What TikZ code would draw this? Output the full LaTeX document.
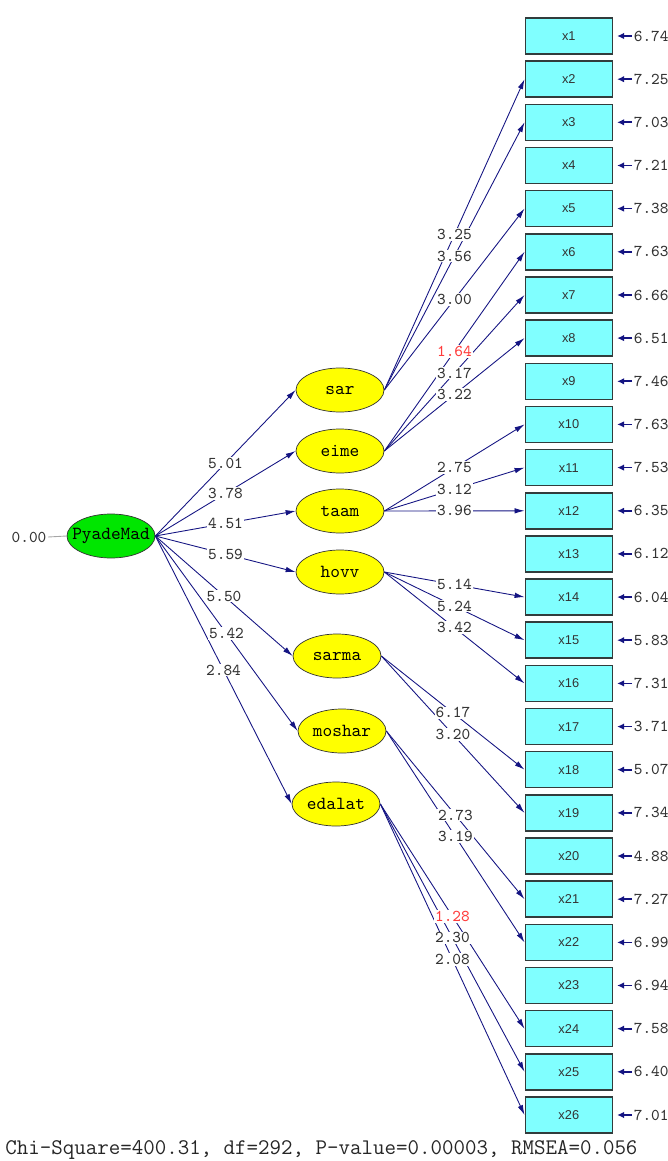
\documentclass[tikz,border=0pt]{standalone}
\usepackage{fontspec}
\newfontfamily\obsfont{Liberation Sans}
\usetikzlibrary{shapes.geometric, arrows.meta}

\definecolor{lisnavy}{RGB}{20,20,130}
\definecolor{lisgreen}{RGB}{0,230,0}
\definecolor{lisyellow}{RGB}{255,255,0}
\definecolor{liscyan}{RGB}{128,255,255}
\definecolor{lisred}{RGB}{255,60,60}
\definecolor{lisbord}{RGB}{50,60,60}

\tikzset{
	obs/.style={draw=lisbord, line width=0.3mm, fill=liscyan, minimum width=17.4mm,
		minimum height=7.2mm, inner sep=0pt, text=black!80,
		font=\obsfont\fontsize{7.3}{8}\selectfont},
	lat/.style={ellipse, draw=black!80, fill=lisyellow, minimum width=17.6mm,
		minimum height=8.8mm, inner sep=0pt, font=\ttfamily\fontsize{10.5}{11}\selectfont},
	load/.style={draw=lisnavy, line width=0.5pt, -{Latex[length=2mm,width=1.1mm]}},
	errarr/.style={draw=lisnavy, line width=1pt, -{Latex[length=1.4mm,width=1.3mm]}, shorten >=0.8mm},
	lbl/.style={fill=white, inner sep=0.6pt, text=black!80, font=\ttfamily\fontsize{9.4}{10}\selectfont},
	errlbl/.style={anchor=west, inner sep=0.3mm, text=black!80, font=\ttfamily\fontsize{9.4}{10}\selectfont}
}

\begin{document}
\begin{tikzpicture}[x=0.2mm, y=-0.2mm]
					\useasboundingbox (0,0) rectangle (668,1161);
					\clip (0,0) rectangle (668,1161);

					% observed variables
					\draw
						(568.8,36.0) node[obs] (x1) {x1}
						(568.8,79.2) node[obs] (x2) {x2}
						(568.8,122.3) node[obs] (x3) {x3}
						(568.8,165.5) node[obs] (x4) {x4}
						(568.8,208.6) node[obs] (x5) {x5}
						(568.8,251.8) node[obs] (x6) {x6}
						(568.8,295.0) node[obs] (x7) {x7}
						(568.8,338.1) node[obs] (x8) {x8}
						(568.8,381.3) node[obs] (x9) {x9}
						(568.8,424.4) node[obs] (x10) {x10}
						(568.8,467.6) node[obs] (x11) {x11}
						(568.8,510.8) node[obs] (x12) {x12}
						(568.8,553.9) node[obs] (x13) {x13}
						(568.8,597.1) node[obs] (x14) {x14}
						(568.8,640.2) node[obs] (x15) {x15}
						(568.8,683.4) node[obs] (x16) {x16}
						(568.8,726.6) node[obs] (x17) {x17}
						(568.8,769.7) node[obs] (x18) {x18}
						(568.8,812.9) node[obs] (x19) {x19}
						(568.8,856.0) node[obs] (x20) {x20}
						(568.8,899.2) node[obs] (x21) {x21}
						(568.8,942.4) node[obs] (x22) {x22}
						(568.8,985.5) node[obs] (x23) {x23}
						(568.8,1028.7) node[obs] (x24) {x24}
						(568.8,1071.8) node[obs] (x25) {x25}
						(568.8,1115.0) node[obs] (x26) {x26};

					% error variances
					\draw
						(632,36.0) node[errlbl] (e1) {6.74}
						(632,79.2) node[errlbl] (e2) {7.25}
						(632,122.3) node[errlbl] (e3) {7.03}
						(632,165.5) node[errlbl] (e4) {7.21}
						(632,208.6) node[errlbl] (e5) {7.38}
						(632,251.8) node[errlbl] (e6) {7.63}
						(632,295.0) node[errlbl] (e7) {6.66}
						(632,338.1) node[errlbl] (e8) {6.51}
						(632,381.3) node[errlbl] (e9) {7.46}
						(632,424.4) node[errlbl] (e10) {7.63}
						(632,467.6) node[errlbl] (e11) {7.53}
						(632,510.8) node[errlbl] (e12) {6.35}
						(632,553.9) node[errlbl] (e13) {6.12}
						(632,597.1) node[errlbl] (e14) {6.04}
						(632,640.2) node[errlbl] (e15) {5.83}
						(632,683.4) node[errlbl] (e16) {7.31}
						(632,726.6) node[errlbl] (e17) {3.71}
						(632,769.7) node[errlbl] (e18) {5.07}
						(632,812.9) node[errlbl] (e19) {7.34}
						(632,856.0) node[errlbl] (e20) {4.88}
						(632,899.2) node[errlbl] (e21) {7.27}
						(632,942.4) node[errlbl] (e22) {6.99}
						(632,985.5) node[errlbl] (e23) {6.94}
						(632,1028.7) node[errlbl] (e24) {7.58}
						(632,1071.8) node[errlbl] (e25) {6.40}
						(632,1115.0) node[errlbl] (e26) {7.01};

					\foreach \i in {1,...,26}
						\draw[errarr] (e\i.west) -- (x\i.east);

					% latent variables
					\draw
						(111,536) node[lat, fill=lisgreen, inner xsep=-1.9mm] (pm) {PyadeMad}
						(340,390) node[lat] (sar) {sar}
						(340,451) node[lat] (eime) {eime}
						(340,511) node[lat] (taam) {taam}
						(340,572) node[lat] (hovv) {hovv}
						(337,656) node[lat] (sarma) {sarma}
						(342,731) node[lat] (moshar) {moshar}
						(336,804) node[lat] (edalat) {edalat};

					\node[errlbl, anchor=center] (zero) at (29,537) {0.00};
					\draw[gray!70, line width=0.5pt] (zero.east) -- (pm.west);

					% second order paths
					\draw[load] (pm.east) -- coordinate[midway] (msar) (sar.west);
					\draw[load] (pm.east) -- coordinate[midway] (meime) (eime.west);
					\draw[load] (pm.east) -- coordinate[midway] (mtaam) (taam.west);
					\draw[load] (pm.east) -- coordinate[midway] (mhovv) (hovv.west);
					\draw[load] (pm.east) -- coordinate[midway] (msarma) (sarma.west);
					\draw[load] (pm.east) -- coordinate[midway] (mmoshar) (moshar.west);
					\draw[load] (pm.east) -- coordinate[midway] (medalat) (edalat.west);

					% loadings
					\draw[load] (sar.east) -- coordinate[midway] (m2) (x2.west);
					\draw[load] (sar.east) -- coordinate[midway] (m3) (x3.west);
					\draw[load] (sar.east) -- coordinate[midway] (m5) (x5.west);
					\draw[load] (eime.east) -- coordinate[midway] (m6) (x6.west);
					\draw[load] (eime.east) -- coordinate[midway] (m7) (x7.west);
					\draw[load] (eime.east) -- coordinate[midway] (m8) (x8.west);
					\draw[load] (taam.east) -- coordinate[midway] (m10) (x10.west);
					\draw[load] (taam.east) -- coordinate[midway] (m11) (x11.west);
					\draw[load] (taam.east) -- coordinate[midway] (m12) (x12.west);
					\draw[load] (hovv.east) -- coordinate[midway] (m14) (x14.west);
					\draw[load] (hovv.east) -- coordinate[midway] (m15) (x15.west);
					\draw[load] (hovv.east) -- coordinate[midway] (m16) (x16.west);
					\draw[load] (sarma.east) -- coordinate[midway] (m18) (x18.west);
					\draw[load] (sarma.east) -- coordinate[midway] (m19) (x19.west);
					\draw[load] (moshar.east) -- coordinate[midway] (m21) (x21.west);
					\draw[load] (moshar.east) -- coordinate[midway] (m22) (x22.west);
					\draw[load] (edalat.east) -- coordinate[midway] (m24) (x24.west);
					\draw[load] (edalat.east) -- coordinate[midway] (m25) (x25.west);
					\draw[load] (edalat.east) -- coordinate[midway] (m26) (x26.west);

					% estimates
					\draw
						(msar) node[lbl] {5.01}
						(meime) node[lbl] {3.78}
						(mtaam) node[lbl] {4.51}
						(mhovv) node[lbl] {5.59}
						(msarma) node[lbl] {5.50}
						(mmoshar) node[lbl] {5.42}
						(medalat) node[lbl] {2.84}
						(m2) node[lbl] {3.25}
						(m3) node[lbl] {3.56}
						(m5) node[lbl] {3.00}
						(m6) node[lbl, text=lisred] {1.64}
						(m7) node[lbl] {3.17}
						(m8) node[lbl] {3.22}
						(m10) node[lbl] {2.75}
						(m11) node[lbl] {3.12}
						(m12) node[lbl] {3.96}
						(m14) node[lbl] {5.14}
						(m15) node[lbl] {5.24}
						(m16) node[lbl] {3.42}
						(m18) node[lbl] {6.17}
						(m19) node[lbl] {3.20}
						(m21) node[lbl] {2.73}
						(m22) node[lbl] {3.19}
						(m24) node[lbl, text=lisred] {1.28}
						(m25) node[lbl] {2.30}
						(m26) node[lbl] {2.08};

					\node[anchor=west, inner sep=0pt, text=black!85, font=\ttfamily\fontsize{12.7}{13}\selectfont]
						(fit) at (5,1150) {Chi-Square=400.31, df=292, P-value=0.00003, RMSEA=0.056};
				\end{tikzpicture}
\end{document}
